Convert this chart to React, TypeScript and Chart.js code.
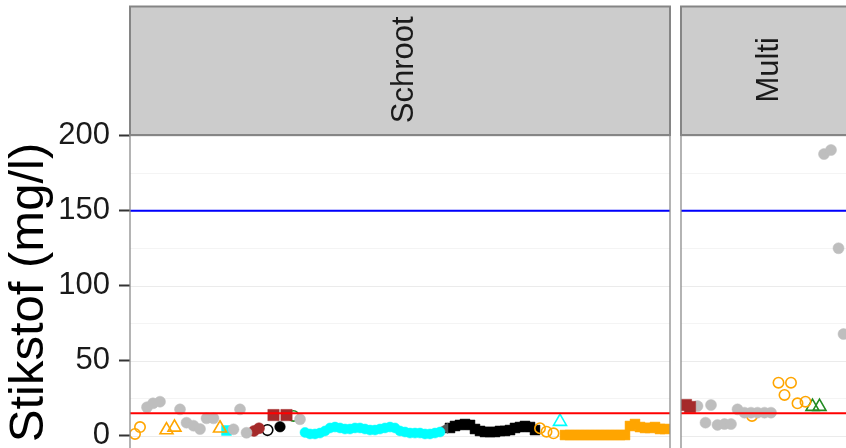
import React, { useEffect, useRef } from 'react';
import { Chart, registerables } from 'chart.js';
Chart.register(...registerables);

const FONT = '"Liberation Sans", Arial, Helvetica, sans-serif';
const Y_MIN = -9.5;
const Y_MAX = 200.5;
const yMajorTicks = [0, 50, 100, 150, 200];
const yMinorTicks = [25, 75, 125, 175];
const limitHigh = 150;
const limitLow = 15;
const yTitle = 'Stikstof (mg/l)';
const facetNames = ['Schroot', 'Multi'];
const schrootRange = [0, 108];
const multiRange = [0, 33.6];

// ---- Schroot panel ----
const sGrayX = [3.4, 4.6, 6, 10, 11.3, 12.7, 14, 15.3, 16.7, 20.7, 22, 23.3, 34];
const sGrayY = [19, 21.6, 22.7, 17.6, 8.7, 6.7, 4.5, 11.6, 11.6, 4.3, 17.6, 2, 11];
const sOrangeCircX = [2, 1, 82, 83.3, 84.7];
const sOrangeCircY = [5.8, 1.2, 5, 2.7, 1.6];
const sOrangeTriX = [7.3, 8.9, 18];
const sOrangeTriY = [3.8, 5.6, 5];
const sCyanSqX = [19.3];
const sCyanSqY = [3.5];
const sBrownCircX = [24.8, 25.8];
const sBrownCircY = [3.2, 5];
const sBlackOpenX = [27.5];
const sBlackOpenY = [3.8];
const sBlackDotX = [30];
const sBlackDotY = [6];
const sBrownSqX = [28.7, 31.3];
const sBrownSqY = [13.8, 13.8];
const sGreenOpenX = [32.7];
const sGreenOpenY = [13.2];
const sCyanX = [35, 36, 37, 38, 39, 40, 41, 42, 43, 44, 45, 46, 47, 48, 49, 50, 51, 52, 53, 54, 55, 56, 57, 58, 59, 60, 61, 62];
const sCyanY = [2.2, 1.2, 1.2, 1.8, 3.2, 5.2, 5.8, 5.2, 4.5, 4.5, 5.2, 5.2, 4.5, 3.8, 3.8, 4.5, 5.2, 5.8, 5.2, 3.2, 2.5, 1.8, 1.8, 1.8, 1.2, 1.2, 1.8, 2.5];
const sDarkTriX = [63];
const sDarkTriY = [5];
const sBlackSqX = [64, 65, 66, 67, 68, 69, 70, 71, 72, 73, 74, 75, 76, 77, 78, 79, 80, 81];
const sBlackSqY = [5.2, 6.5, 7.2, 7.8, 7.2, 4.5, 3.2, 2.5, 2.5, 2.5, 3.2, 3.2, 3.8, 5.2, 5.8, 6.5, 5.8, 3.8];
const sCyanTriX = [86];
const sCyanTriY = [9.4];
const sOrangeSqX = [87, 88, 89, 90, 91, 92, 93, 94, 95, 96, 97, 98, 99, 100, 101, 102, 103, 104, 105, 106, 107];
const sOrangeSqY = [0.5, 0.5, 0.5, 0.5, 0.5, 0.5, 0.5, 0.5, 0.5, 0.5, 0.5, 0.5, 0.5, 6.5, 7.8, 5.8, 5.2, 5.2, 5.8, 4.5, 4.5];

// ---- Multi panel ----
const mBrownSqX = [1, 1.8];
const mBrownSqY = [20.5, 19.2];
const mGrayX = [3.3, 4.9, 6, 7.3, 8.7, 10, 11.3, 12.7, 14, 15.3, 16.7, 18, 28.6, 30, 31.5, 32.5];
const mGrayY = [19.8, 8.7, 20.5, 7.2, 7.8, 7.8, 17.6, 15.4, 15.4, 15.4, 15.4, 15.4, 187.8, 190.5, 125, 67.8];
const mOrangeCircX = [14.2, 19.5, 20.7, 22, 23.3, 24.9];
const mOrangeCircY = [13.2, 35.4, 27.2, 35.4, 21.6, 22.7];
const mGreenTriX = [26.3, 27.7];
const mGreenTriY = [19.4, 19.4];

const GRAY = '#BEBEBE';
const ORANGE = '#FFA500';
const CYAN = '#00FFFF';
const BROWN = '#A52A2A';
const GREEN = '#228B22';
const BLACK = '#000000';
const DARK = '#555555';

type Style = { shape: string; color: string; open?: boolean; r: number; rot?: number };

function pts(xs: number[], ys: number[]) {
  return xs.map((x, i) => ({ x, y: ys[i] }));
}

function series(label: string, xs: number[], ys: number[], s: Style) {
  return {
    type: 'scatter' as const,
    label,
    data: pts(xs, ys),
    pointStyle: s.shape,
    pointRadius: s.r,
    pointRotation: s.rot || 0,
    backgroundColor: s.open ? 'rgba(0,0,0,0)' : s.color,
    borderColor: s.color,
    borderWidth: s.open ? 1.6 : 0.5,
    showLine: false,
    order: 1,
  };
}

function hline(label: string, y: number, range: number[], color: string) {
  return {
    type: 'scatter' as const,
    label,
    data: [{ x: range[0], y }, { x: range[1], y }],
    showLine: true,
    borderColor: color,
    backgroundColor: color,
    borderWidth: 2,
    pointRadius: 0,
    order: 0,
  };
}

const facetPlugin = {
  id: 'facetPanel',
  beforeDatasetsDraw(chart: any) {
    const { ctx, chartArea: a } = chart;
    const y = chart.scales.y;
    ctx.save();
    ctx.lineWidth = 1;
    ctx.strokeStyle = '#F4F4F4';
    for (const v of yMinorTicks) {
      const py = Math.round(y.getPixelForValue(v)) + 0.5;
      ctx.beginPath();
      ctx.moveTo(a.left, py);
      ctx.lineTo(a.right, py);
      ctx.stroke();
    }
    ctx.strokeStyle = '#EBEBEB';
    ctx.lineWidth = 1.2;
    for (const v of yMajorTicks) {
      const py = Math.round(y.getPixelForValue(v)) + 0.5;
      ctx.beginPath();
      ctx.moveTo(a.left, py);
      ctx.lineTo(a.right, py);
      ctx.stroke();
    }
    ctx.restore();
  },
  afterDraw(chart: any, _a: any, opts: any) {
    const { ctx, chartArea: a } = chart;
    ctx.save();
    ctx.strokeStyle = '#8C8C8C';
    ctx.lineWidth = 1.3;
    ctx.strokeRect(a.left, a.top, a.right - a.left, a.bottom - a.top);
    const top = 6.5;
    ctx.fillStyle = '#CCCCCC';
    ctx.fillRect(a.left, top, a.right - a.left, a.top - top);
    ctx.strokeStyle = '#858585';
    ctx.lineWidth = 2;
    ctx.strokeRect(a.left, top, a.right - a.left, a.top - top);
    const cx = (a.left + a.right) / 2;
    const cy = (top + a.top) / 2 - 1;
    ctx.translate(cx + 13, cy);
    ctx.rotate(-Math.PI / 2);
    ctx.fillStyle = '#1A1A1A';
    ctx.font = `31px ${FONT}`;
    ctx.textAlign = 'center';
    ctx.textBaseline = 'alphabetic';
    ctx.fillText(opts.label, 0, 0);
    ctx.restore();
  },
};

function makeChart(canvas: HTMLCanvasElement, datasets: any[], range: number[], withAxis: boolean, label: string, pad: any) {
  return new Chart(canvas, {
    type: 'scatter',
    data: { datasets },
    plugins: [facetPlugin],
    options: {
      responsive: true,
      maintainAspectRatio: false,
      animation: false,
      events: [],
      layout: { padding: pad, autoPadding: false },
      plugins: {
        legend: { display: false },
        tooltip: { enabled: false },
        facetPanel: { label },
      } as any,
      scales: {
        x: { type: 'linear', display: false, min: range[0], max: range[1] },
        y: {
          type: 'linear',
          display: withAxis,
          min: Y_MIN,
          max: Y_MAX,
          afterBuildTicks: (s: any) => {
            s.ticks = yMajorTicks.map((v) => ({ value: v }));
          },
          afterFit: (s: any) => {
            if (withAxis) s.width = 130;
            s.paddingTop = 0;
            s.paddingBottom = 0;
            s.paddingLeft = 0;
            s.paddingRight = 0;
          },
          ticks: {
            font: { family: FONT, size: 31 },
            color: '#1A1A1A',
            padding: 9,
            autoSkip: false,
            maxRotation: 0,
          },
          grid: {
            drawOnChartArea: false,
            drawTicks: true,
            tickLength: 11,
            tickColor: '#333333',
            tickWidth: 2,
          },
          border: { display: false },
          title: {
            display: true,
            text: yTitle,
            font: { family: FONT, size: 49 },
            color: '#000000',
            padding: 0,
          },
        },
      },
    } as any,
  });
}

export default function App() {
  const leftRef = useRef<HTMLCanvasElement>(null);
  const rightRef = useRef<HTMLCanvasElement>(null);

  useEffect(() => {
    const left = [
      hline('limit150', limitHigh, schrootRange, '#0000FF'),
      hline('limit15', limitLow, schrootRange, '#FF0000'),
      series('gray', sGrayX, sGrayY, { shape: 'circle', color: GRAY, r: 5.5 }),
      series('orangeCirc', sOrangeCircX, sOrangeCircY, { shape: 'circle', color: ORANGE, open: true, r: 5.2 }),
      series('orangeTri', sOrangeTriX, sOrangeTriY, { shape: 'triangle', color: ORANGE, open: true, r: 7.5 }),
      series('cyanSq', sCyanSqX, sCyanSqY, { shape: 'rect', color: CYAN, r: 7 }),
      series('brownCirc', sBrownCircX, sBrownCircY, { shape: 'circle', color: BROWN, r: 5.5 }),
      series('blackOpen', sBlackOpenX, sBlackOpenY, { shape: 'circle', color: BLACK, open: true, r: 5.3 }),
      series('blackDot', sBlackDotX, sBlackDotY, { shape: 'circle', color: BLACK, r: 5.3 }),
      series('brownSq', sBrownSqX, sBrownSqY, { shape: 'rect', color: BROWN, r: 8 }),
      series('greenOpen', sGreenOpenX, sGreenOpenY, { shape: 'circle', color: GREEN, open: true, r: 5.2 }),
      series('cyan', sCyanX, sCyanY, { shape: 'circle', color: CYAN, r: 5 }),
      series('darkTri', sDarkTriX, sDarkTriY, { shape: 'triangle', color: DARK, r: 6, rot: -90 }),
      series('blackSq', sBlackSqX, sBlackSqY, { shape: 'rect', color: BLACK, r: 7 }),
      series('cyanTri', sCyanTriX, sCyanTriY, { shape: 'triangle', color: CYAN, open: true, r: 7.5 }),
      series('orangeSq', sOrangeSqX, sOrangeSqY, { shape: 'rect', color: ORANGE, r: 7 }),
    ];
    const right = [
      hline('limit150', limitHigh, multiRange, '#0000FF'),
      hline('limit15', limitLow, multiRange, '#FF0000'),
      series('brownSq', mBrownSqX, mBrownSqY, { shape: 'rect', color: BROWN, r: 8 }),
      series('gray', mGrayX, mGrayY, { shape: 'circle', color: GRAY, r: 5.5 }),
      series('orangeCirc', mOrangeCircX, mOrangeCircY, { shape: 'circle', color: ORANGE, open: true, r: 5.2 }),
      series('greenTri', mGreenTriX, mGreenTriY, { shape: 'triangle', color: GREEN, open: true, r: 7.5 }),
    ];
    const c1 = makeChart(leftRef.current!, left, schrootRange, true, facetNames[0], { left: 0, top: 135, right: 1, bottom: 20 });
    const c2 = makeChart(rightRef.current!, right, multiRange, false, facetNames[1], { left: 11, top: 135, right: 3, bottom: 20 });
    return () => {
      c1.destroy();
      c2.destroy();
    };
  }, []);

  return (
    <div style={{ position: 'fixed', left: 0, top: 0, width: 846, height: 448, overflow: 'hidden', background: '#ffffff' }}>
      <div style={{ position: 'absolute', left: 0, top: 0, width: 671, height: 470 }}>
        <canvas ref={leftRef} />
      </div>
      <div style={{ position: 'absolute', left: 670, top: 0, width: 182, height: 470 }}>
        <canvas ref={rightRef} />
      </div>
    </div>
  );
}
